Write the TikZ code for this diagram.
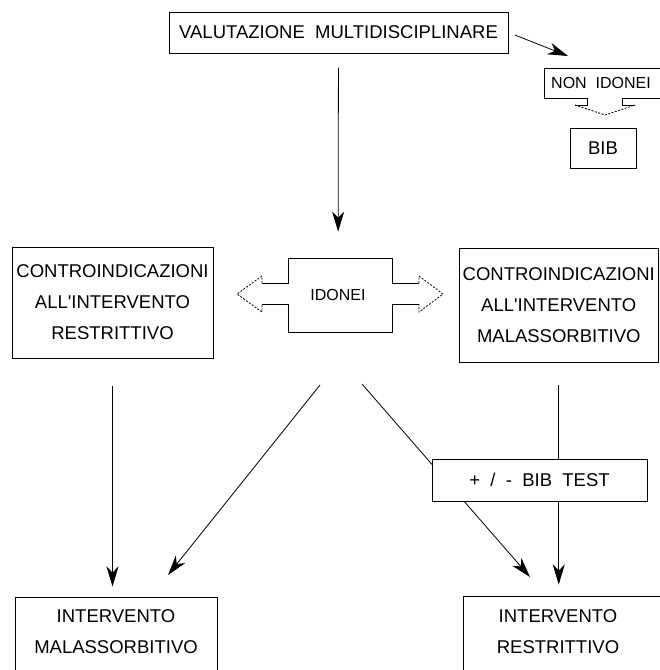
\documentclass[tikz,border=0pt]{standalone}
\usepackage{fontspec}
\setmainfont{Liberation Sans}[Ligatures=TeXOff]
\usetikzlibrary{arrows.meta}

\begin{document}
\begin{tikzpicture}[x=1pt, y=-1pt, line width=0.8pt,
  box/.style={draw, line width=1pt, fill=white, inner sep=0pt},
  txt/.style={font=\fontsize{18.5}{31}\selectfont, align=center},
  small/.style={font=\fontsize{16}{20}\selectfont},
  arr/.style={-{Stealth[length=20pt, width=12pt, inset=6pt]}},
  headdash/.style={line width=0.8pt, dash pattern=on 2pt off 1.5pt}]
\useasboundingbox (0,0) rectangle (660,670);
\clip (0,0) rectangle (660,670);
% top
\node[box, txt, minimum width=339pt, minimum height=41pt] (valuta) at (338.5,32.5) {VALUTAZIONE~~MULTIDISCIPLINARE};
% non idonei
\node[small, inner sep=0pt] (nonid) at (601,83) {NON~~IDONEI};
\draw[line width=1pt] (665,68) -- (544,68) -- (544,98) -- (587,98) -- (587,105) -- (575,105);
\draw[line width=1pt] (665,98) -- (622,98) -- (622,105) -- (635,105);
\draw[headdash] (575,105) -- (605,115) -- (635,105);
\coordinate (nitip) at (568,56);
\node[box, txt, minimum width=66pt, minimum height=40pt] (bib) at (603,148) {BIB};
% idonei
\node[small, minimum width=104pt, minimum height=74pt] (idonei) at (338,295) {IDONEI};
\draw[line width=1pt] (262,283) -- (288,283) -- (288,258) -- (392,258) -- (392,283) -- (419,283);
\draw[line width=1pt] (262,304) -- (288,304) -- (288,332) -- (392,332) -- (392,304) -- (419,304);
\draw[headdash] (262,283) -- (262,276) -- (237,294) -- (262,312) -- (262,304);
\draw[headdash] (419,283) -- (419,276) -- (443,294) -- (419,312) -- (419,304);
% controindicazioni
\node[box, txt, minimum width=201pt, minimum height=111pt] (contrL) at (112.5,302.5)
  {CONTROINDICAZIONI\\ALL'INTERVENTO\\RESTRITTIVO};
\node[box, txt, minimum width=199.5pt, minimum height=114.5pt] (contrR) at (558.75,305.25)
  {CONTROINDICAZIONI\\ALL'INTERVENTO\\MALASSORBITIVO};
% interventi
\node[box, minimum width=202pt, minimum height=123pt] (intM) at (116,658.5) {};
\node[txt] (intMtxt) at (116,632) {INTERVENTO\\MALASSORBITIVO};
\node[box, minimum width=237pt, minimum height=124pt] (intR) at (581.5,658) {};
\node[txt] (intRtxt) at (558,632) {INTERVENTO\\RESTRITTIVO};
% arrows
\draw[arr, shorten <=14pt, shorten >=26pt] (valuta) -- (idonei);
\draw[arr, shorten <=7pt] (valuta.east) -- (nitip);
\draw[arr, shorten <=27pt, shorten >=10pt] (contrL.south) -- (contrL.south |- intM.north);
\draw[arr, shorten <=22pt, shorten >=11pt] (contrR.south) -- (contrR.south |- intR.north);
\coordinate (dLa) at (320,385);
\coordinate (dLb) at (168,575);
\coordinate (dRa) at (362,384);
\coordinate (dRb) at (530,577);
\draw[arr] (dLa) -- (dLb);
\draw[arr] (dRa) -- (dRb);
% test
\node[box, txt, minimum width=215pt, minimum height=42pt] (bibtest) at (539.5,480) {+~~/~~-~~BIB~~TEST};
\end{tikzpicture}
\end{document}
